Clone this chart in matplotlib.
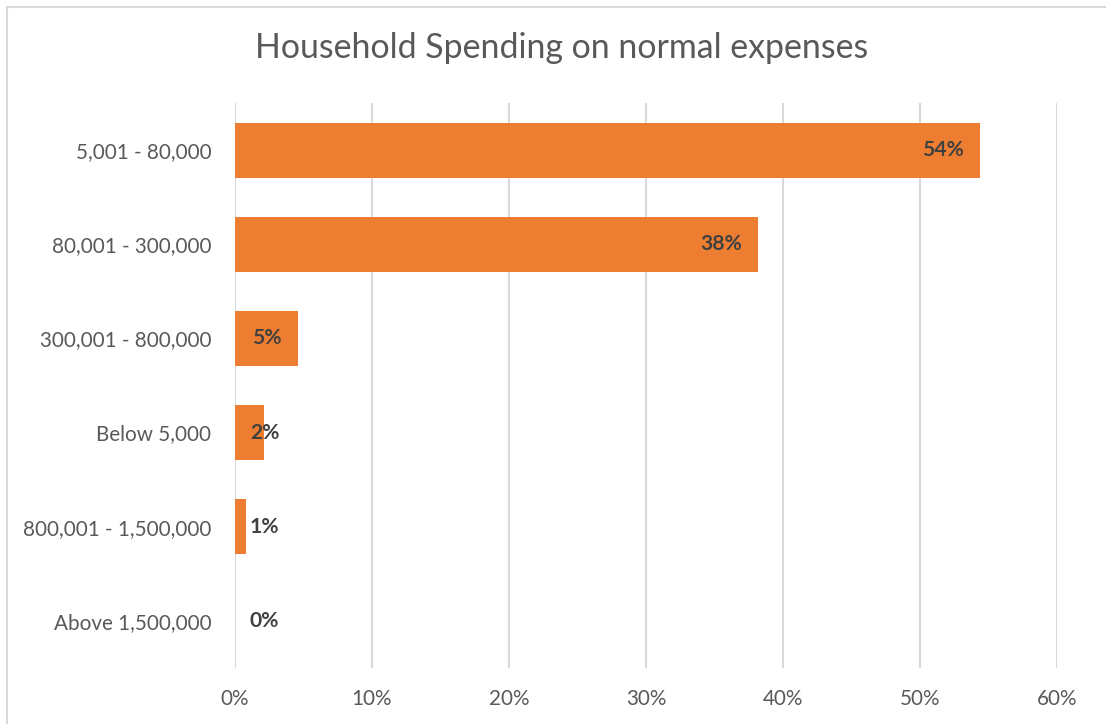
import matplotlib
matplotlib.use("Agg")
import matplotlib.pyplot as plt
from matplotlib.lines import Line2D
from matplotlib.ticker import FuncFormatter

plt.rcParams['font.family'] = ['Lato', 'DejaVu Sans']

categories = ["5,001 - 80,000", "80,001 - 300,000", "300,001 - 800,000",
              "Below 5,000", "800,001 - 1,500,000", "Above 1,500,000"]
shares = [54.4, 38.2, 4.6, 2.1, 0.8, 0.0]
x_ticks = [0, 10, 20, 30, 40, 50, 60]

BAR = "#ED7D31"
GRID = "#D9D9D9"
TICK = "#595959"
LABEL = "#404040"

W, H, DPI = 1106, 724, 100
fig = plt.figure(figsize=(W / DPI, H / DPI), dpi=DPI)
fig.patch.set_facecolor("white")

# chart-area frame (top and left edges visible)
fig.add_artist(Line2D([7 / W, 7 / W], [0, 1 - 6.5 / H], transform=fig.transFigure,
                      color=GRID, lw=1.5))
fig.add_artist(Line2D([7 / W, 1], [1 - 6.5 / H, 1 - 6.5 / H], transform=fig.transFigure,
                      color=GRID, lw=1.5))

ax = fig.add_axes([235 / W, 1 - 668 / H, (1057 - 235) / W, (668 - 103) / H])
y = list(range(len(categories)))
ax.barh(y, shares, height=0.585, color=BAR, zorder=2)
ax.set_xlim(0, 60)
ax.set_ylim(len(categories) - 0.5, -0.5)
ax.set_xticks(x_ticks)
ax.xaxis.set_major_formatter(FuncFormatter(lambda v, p: f"{v:.0f}%"))
ax.set_yticks(y)
ax.set_yticklabels(categories)
ax.grid(axis="x", color=GRID, lw=1.5, zorder=0)
ax.set_axisbelow(True)
for s in ax.spines.values():
    s.set_visible(False)
ax.tick_params(axis="both", length=0, labelsize=14.9, labelcolor=TICK)
ax.tick_params(axis="x", pad=15)
ax.tick_params(axis="y", pad=17)

# value labels: inside end of the bar, pushed right of the axis when the bar is short
px_per_unit = (1057 - 235) / 60
pad = 16 / px_per_unit
left_min = 15 / px_per_unit
label_w = 29 / px_per_unit
for yi, v in zip(y, shares):
    txt = f"{v:.0f}%"
    if v - pad - label_w >= left_min:
        ax.text(v - pad, yi, txt, ha="right", va="center", fontsize=15.2,
                fontweight="bold", color=LABEL, zorder=3)
    else:
        ax.text(left_min, yi, txt, ha="left", va="center", fontsize=15.2,
                fontweight="bold", color=LABEL, zorder=3)

fig.text(562 / W, 1 - 48 / H, "Household Spending on normal expenses",
         ha="center", va="center", fontsize=24.4, color=TICK)

fig.savefig("out.png", dpi=DPI, facecolor="white")
